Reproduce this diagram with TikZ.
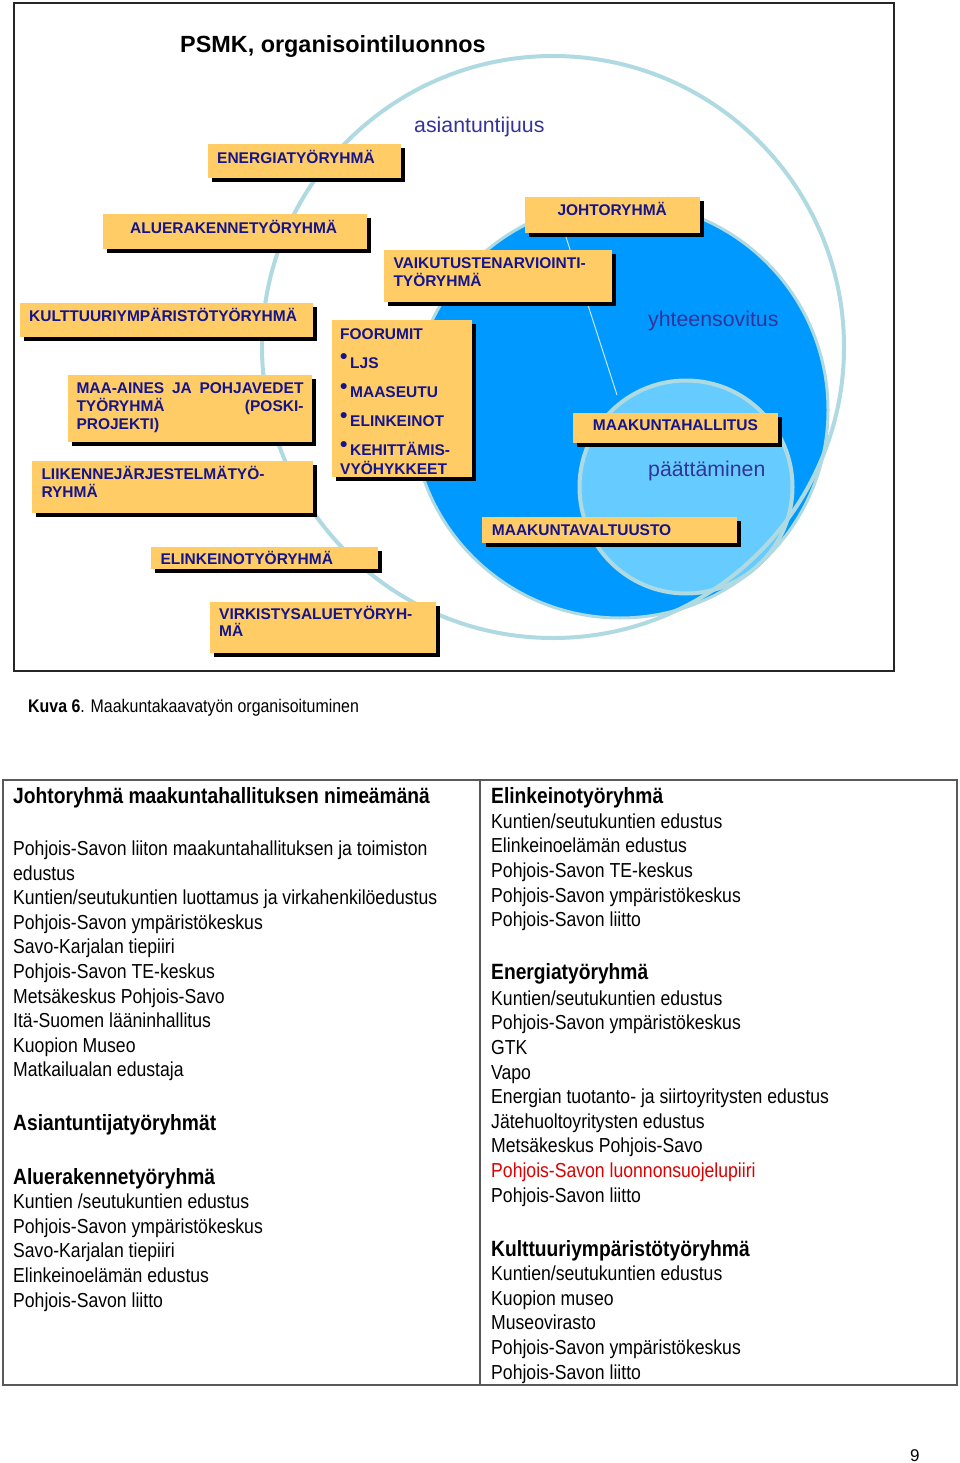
\documentclass[tikz,border=0pt]{standalone}
\usepackage{fontspec}
\setmainfont{Liberation Sans}
\newfontfamily\narrowfont[FakeStretch=0.87]{Liberation Sans}
\usetikzlibrary{shadows}
\definecolor{boxfill}{RGB}{255,204,102}
\definecolor{boxtext}{RGB}{20,20,140}
\definecolor{darkblue}{RGB}{0,153,255}
\definecolor{lightblue}{RGB}{102,204,255}
\definecolor{ringcol}{RGB}{176,218,226}
\definecolor{labelcol}{RGB}{51,51,153}
\definecolor{redtext}{RGB}{220,0,0}
\newcommand\mystack[2]{\vtop{\baselineskip=#1\lineskiplimit=-50pt\lineskip=0pt #2}}
\newcommand\bul{\makebox[10pt][l]{\raisebox{4.5pt}{\fontsize{21}{21}\selectfont\textbullet}}}
\begin{document}
\begin{tikzpicture}[x=1pt,y=-1pt,
  orgbox/.style={fill=boxfill, anchor=north west, inner sep=0pt, outer sep=0pt,
    drop shadow={shadow xshift=4pt,shadow yshift=-4pt,fill=black,opacity=1}},
  boxlabel/.style={anchor=base west, inner sep=0pt, text=boxtext, font=\bfseries\fontsize{15.5}{18}\selectfont},
  circlabel/.style={anchor=base west, inner sep=0pt, text=labelcol, font=\fontsize{21.3}{25}\selectfont},
  tabtext/.style={anchor=base west, inner sep=0pt, font=\narrowfont\fontsize{20.25}{24}\selectfont},
  tabhead/.style={anchor=base west, inner sep=0pt, font=\narrowfont\bfseries\fontsize{22.1}{26}\selectfont},
]
\fill[white] (0,0) rectangle (960,1463);
\useasboundingbox (0,0) rectangle (960,1463);

% frame of the diagram
\draw[line width=1.8pt, black!85] (14,3) rectangle (894,671);

% circles
\draw[fill=darkblue, draw=ringcol, line width=3pt] (620,410) circle [radius=208];
\draw[fill=lightblue, draw=ringcol, line width=4pt] (686,487) circle [radius=106.5];
\draw[ringcol, line width=4pt] (553,347) circle [radius=291];
\coordinate (lnA) at (565,234);
\coordinate (lnB) at (617,395);
\draw[ringcol!70!white, line width=1pt] (lnA) -- (lnB);

% title
\node[anchor=base west, inner sep=0pt, font=\bfseries\fontsize{23.4}{28}\selectfont] (title) at (180,53) {PSMK, organisointiluonnos};

% circle labels
\node[circlabel] (asiant) at (414,132.5) {asiantuntijuus};
\node[circlabel] (yhteen) at (648,326) {yhteensovitus};
\node[circlabel] (paatt) at (648,476.7) {päättäminen};

% boxes
\node[orgbox, minimum width=193pt, minimum height=34pt] (energ) at (208,144) {};
\node[boxlabel] (energ-t) at (217,164) {ENERGIATYÖRYHMÄ};

\node[orgbox, minimum width=264pt, minimum height=35pt] (alue) at (103,214) {};
\node[boxlabel] (alue-t) at (130,234) {ALUERAKENNETYÖRYHMÄ};

\node[orgbox, minimum width=175pt, minimum height=36pt] (johto) at (525,197) {};
\node[boxlabel] (johto-t) at (557.3,216) {JOHTORYHMÄ};

\node[orgbox, minimum width=228pt, minimum height=52pt] (vaik) at (384,250) {};
\node[boxlabel] (vaik-t) at (393.3,268.3) {\mystack{18.4pt}{\hbox{VAIKUTUSTENARVIOINTI-}\hbox{TYÖRYHMÄ}}};

\node[orgbox, minimum width=293pt, minimum height=34pt] (kult) at (20,303) {};
\node[boxlabel] (kult-t) at (29,321.7) {KULTTUURIYMPÄRISTÖTYÖRYHMÄ};

\node[orgbox, minimum width=140pt, minimum height=157pt] (foor) at (332,320) {};
\node[boxlabel] (foor-t) at (340,339.3) {\mystack{29.1pt}{\hbox{FOORUMIT}\hbox{\bul LJS}\hbox{\bul MAASEUTU}\hbox{\bul ELINKEINOT}\hbox{\bul KEHITTÄMIS-}}};
\node[boxlabel] (foor-t2) at (340,474) {VYÖHYKKEET};

\node[orgbox, minimum width=244pt, minimum height=67pt] (maa) at (68,375) {};
\node[boxlabel] (maa-t) at (76.3,393.3) {\mystack{18pt}{\hbox to 227pt{MAA-AINES\hfill JA\hfill POHJAVEDET}\hbox to 227pt{TYÖRYHMÄ\hfill (POSKI-}\hbox{PROJEKTI)}}};

\node[orgbox, minimum width=281pt, minimum height=52pt] (liik) at (32,461) {};
\node[boxlabel] (liik-t) at (41.3,479.3) {\mystack{18pt}{\hbox{LIIKENNEJÄRJESTELMÄTYÖ-}\hbox{RYHMÄ}}};

\node[orgbox, minimum width=227pt, minimum height=22pt] (elink) at (151,547) {};
\node[boxlabel] (elink-t) at (160.3,564) {ELINKEINOTYÖRYHMÄ};

\node[orgbox, minimum width=226pt, minimum height=51pt] (virk) at (210,602) {};
\node[boxlabel] (virk-t) at (219,619.3) {\mystack{17.4pt}{\hbox{VIRKISTYSALUETYÖRYH-}\hbox{MÄ}}};

\node[orgbox, minimum width=205.6pt, minimum height=30pt] (mkh) at (572.7,412.7) {};
\node[boxlabel] (mkh-t) at (592.7,430.7) {MAAKUNTAHALLITUS};

\node[orgbox, minimum width=255.6pt, minimum height=26.6pt] (mkv) at (481.7,516.7) {};
\node[boxlabel] (mkv-t) at (491.7,535.7) {MAAKUNTAVALTUUSTO};

% caption
\node[anchor=base west, inner sep=0pt, font=\narrowfont\fontsize{18.3}{22}\selectfont] (caption) at (28,712.7) {\textbf{Kuva 6}. Maakuntakaavatyön organisoituminen};

% table
\draw[line width=1.6pt, black!65] (3,780) rectangle (957,1385);
\coordinate (divT) at (480,780);
\coordinate (divB) at (480,1385);
\draw[line width=1.6pt, black!65] (divT) -- (divB);

% left column
\node[tabhead] (l1) at (13,803.3) {Johtoryhmä maakuntahallituksen nimeämänä};
\node[tabtext] (l2) at (13,855.5) {Pohjois-Savon liiton maakuntahallituksen ja toimiston};
\node[tabtext] (l3) at (13,880.1) {edustus};
\node[tabtext] (l4) at (13,904.7) {Kuntien/seutukuntien luottamus ja virkahenkilöedustus};
\node[tabtext] (l5) at (13,929.3) {Pohjois-Savon ympäristökeskus};
\node[tabtext] (l6) at (13,953.9) {Savo-Karjalan tiepiiri};
\node[tabtext] (l7) at (13,978.5) {Pohjois-Savon TE-keskus};
\node[tabtext] (l8) at (13,1003.1) {Metsäkeskus Pohjois-Savo};
\node[tabtext] (l9) at (13,1027.7) {Itä-Suomen lääninhallitus};
\node[tabtext] (l10) at (13,1052.3) {Kuopion Museo};
\node[tabtext] (l11) at (13,1076.9) {Matkailualan edustaja};
\node[tabhead] (l12) at (13,1130) {Asiantuntijatyöryhmät};
\node[tabhead] (l13) at (13,1184) {Aluerakennetyöryhmä};
\node[tabtext] (l14) at (13,1208.5) {Kuntien /seutukuntien edustus};
\node[tabtext] (l15) at (13,1233.2) {Pohjois-Savon ympäristökeskus};
\node[tabtext] (l16) at (13,1257.9) {Savo-Karjalan tiepiiri};
\node[tabtext] (l17) at (13,1282.6) {Elinkeinoelämän edustus};
\node[tabtext] (l18) at (13,1307.3) {Pohjois-Savon liitto};

% right column
\node[tabhead] (r1) at (491,803.3) {Elinkeinotyöryhmä};
\node[tabtext] (r2) at (491,828.3) {Kuntien/seutukuntien edustus};
\node[tabtext] (r3) at (491,852.9) {Elinkeinoelämän edustus};
\node[tabtext] (r4) at (491,877.5) {Pohjois-Savon TE-keskus};
\node[tabtext] (r5) at (491,902.1) {Pohjois-Savon ympäristökeskus};
\node[tabtext] (r6) at (491,926.7) {Pohjois-Savon liitto};
\node[tabhead] (r7) at (491,979.3) {Energiatyöryhmä};
\node[tabtext] (r8) at (491,1005) {Kuntien/seutukuntien edustus};
\node[tabtext] (r9) at (491,1029.7) {Pohjois-Savon ympäristökeskus};
\node[tabtext] (r10) at (491,1054.3) {GTK};
\node[tabtext] (r11) at (491,1079) {Vapo};
\node[tabtext] (r12) at (491,1103.6) {Energian tuotanto- ja siirtoyritysten edustus};
\node[tabtext] (r13) at (491,1128.3) {Jätehuoltoyritysten edustus};
\node[tabtext] (r14) at (491,1152.9) {Metsäkeskus Pohjois-Savo};
\node[tabtext, text=redtext] (r15) at (491,1177.6) {Pohjois-Savon luonnonsuojelupiiri};
\node[tabtext] (r16) at (491,1202.2) {Pohjois-Savon liitto};
\node[tabhead] (r17) at (491,1256) {Kulttuuriympäristötyöryhmä};
\node[tabtext] (r18) at (491,1280.6) {Kuntien/seutukuntien edustus};
\node[tabtext] (r19) at (491,1305.2) {Kuopion museo};
\node[tabtext] (r20) at (491,1329.8) {Museovirasto};
\node[tabtext] (r21) at (491,1354.5) {Pohjois-Savon ympäristökeskus};
\node[tabtext] (r22) at (491,1379.1) {Pohjois-Savon liitto};

% page number
\node[anchor=base west, inner sep=0pt, font=\fontsize{17}{20}\selectfont] (pagenum) at (910,1461.5) {9};
\end{tikzpicture}
\end{document}
